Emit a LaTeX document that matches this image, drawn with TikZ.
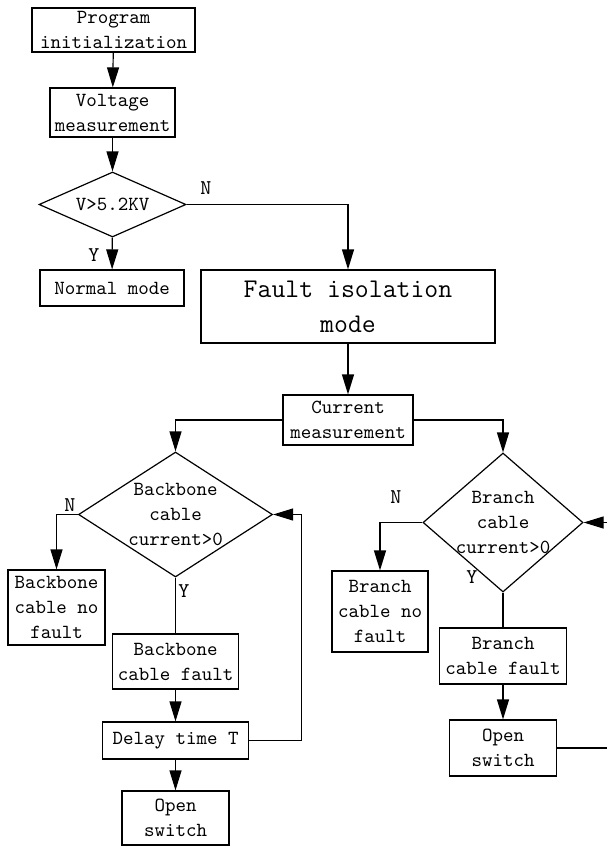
\documentclass[tikz,border=0pt]{standalone}
\usepackage{tikz}
\usetikzlibrary{arrows.meta,shapes.geometric}
\tikzset{%
  stepbox/.style = {shape=rectangle, draw, align=center, inner sep=0pt,%
                    font=\ttfamily\fontsize{10}{12.5}\selectfont},%
  bigbox/.style  = {stepbox, font=\ttfamily\fontsize{13.5}{17.5}\selectfont},%
  test/.style    = {shape=diamond, draw, align=center, inner sep=0pt,%
                    font=\ttfamily\fontsize{10}{12.5}\selectfont},%
  tag/.style     = {font=\ttfamily\fontsize{10.5}{12}\selectfont, inner sep=0pt},%
  flow/.style    = {-{Triangle[length=10pt,width=6pt]}}%
}

\begin{document}
\begin{tikzpicture}
              [x=0.5pt, y=-0.5pt, line width=0.6pt]
              \useasboundingbox (0,0) rectangle (607,846);
              \node[stepbox, minimum width=81.5pt, minimum height=22pt] (init) at (113.5,30) {Program\\initialization};
              \node[stepbox, minimum width=62.5pt, minimum height=24.5pt] (volt) at (112.5,112.5) {Voltage\\measurement};
              \node[test, minimum width=73.5pt, minimum height=32.5pt, aspect=2.26] (vtest) at (112.5,204.5) {V>5.2KV};
              \node[stepbox, minimum width=72pt, minimum height=18pt] (normal) at (112,288) {Normal mode};
              \node[bigbox, minimum width=147pt, minimum height=36.5pt] (fault) at (348,306.5) {Fault isolation\\mode};
              \node[stepbox, minimum width=65pt, minimum height=25pt] (current) at (348,420) {Current\\measurement};
              \node[test, minimum width=97pt, minimum height=62.5pt, aspect=1.55] (bbtest) at (175.5,514.5) {Backbone\\cable\\current>0};
              \node[stepbox, minimum width=48.5pt, minimum height=37.5pt] (bbok) at (56.5,607.5) {Backbone\\cable no\\fault};
              \node[stepbox, minimum width=63pt, minimum height=27.5pt] (bbfault) at (175.5,661.5) {Backbone\\cable fault};
              \node[stepbox, minimum width=73pt, minimum height=18.5pt] (delay) at (175.5,740.5) {Delay time T};
              \node[stepbox, minimum width=53.5pt, minimum height=27pt] (bbopen) at (175.5,818) {Open\\switch};
              \node[test, minimum width=80pt, minimum height=69.5pt, aspect=1.15, inner sep=-2pt] (brtest) at (503,522.5) {Branch\\cable\\current>0};
              \node[stepbox, minimum width=48pt, minimum height=40.5pt] (brok) at (380,611.5) {Branch\\cable no\\fault};
              \node[stepbox, minimum width=63.5pt, minimum height=28pt] (brfault) at (503,656) {Branch\\cable fault};
              \node[stepbox, minimum width=53.5pt, minimum height=28pt] (bropen) at (503,748) {Open\\switch};
              \coordinate (outA) at (607,748);
              \coordinate (outB) at (607,522.5);
              \node[tag] (n1) at (206,188) {N};
              \node[tag] (y1) at (94,255) {Y};
              \node[tag] (n2) at (70,505) {N};
              \node[tag] (y2) at (184,591) {Y};
              \node[tag] (n3) at (396,497) {N};
              \node[tag] (y3) at (472,577) {Y};
              \draw[flow] (init) -- (volt);
              \draw[flow] (volt) -- (vtest);
              \draw[flow] (vtest.east) -| (fault.north);
              \draw[flow] (vtest) -- (normal);
              \draw[flow] (fault) -- (current);
              \draw[flow] (current.west) -| (bbtest.north);
              \draw[flow] (current.east) -| (brtest.north);
              \draw[flow] (bbtest.west) -| (bbok.north);
              \draw (bbtest.south) -- (bbfault.north);
              \draw[flow] (bbfault) -- (delay);
              \draw[flow] (delay) -- (bbopen);
              \draw[flow] (delay.east) -- ++(52,0) |- (bbtest.east);
              \draw[flow] (brtest.west) -| (brok.north);
              \draw (brtest.south) -- (brfault.north);
              \draw[flow] (brfault) -- (bropen);
              \draw (bropen.east) -- (outA);
              \draw[flow] (outB) -- (brtest.east);
        \end{tikzpicture}
\end{document}
